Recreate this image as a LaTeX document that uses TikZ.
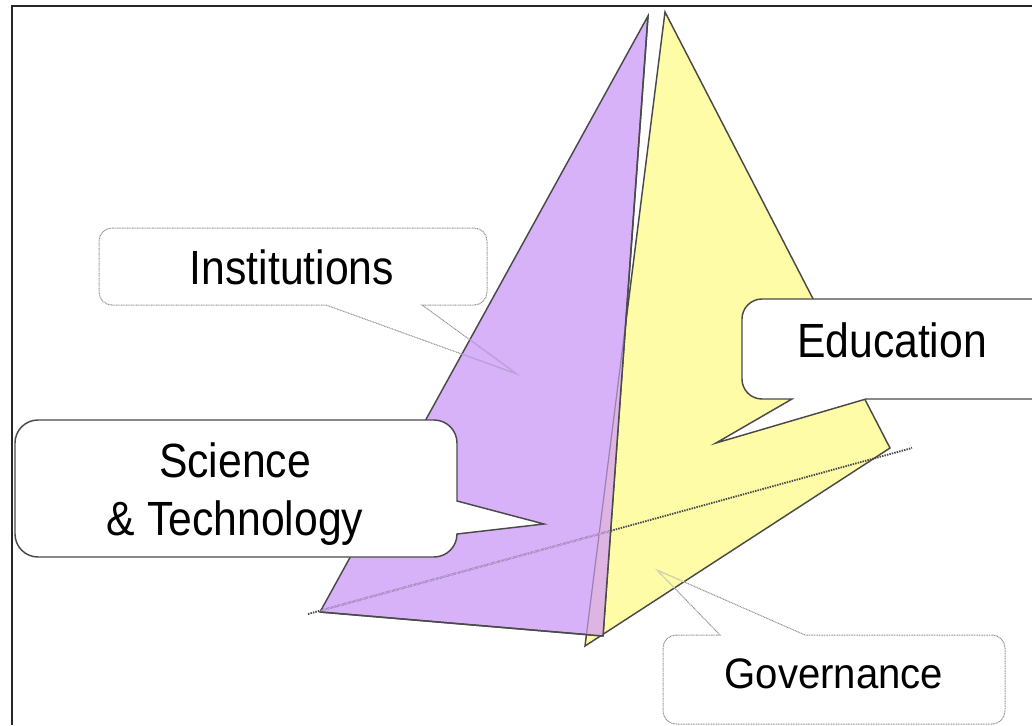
\documentclass[tikz,border=0pt]{standalone}
\usepackage{fontspec}
\setmainfont{Liberation Sans}
\newfontfamily\callfont[FakeStretch=0.89]{Liberation Sans}
\newfontfamily\govfont[FakeStretch=0.94]{Liberation Sans}
\definecolor{purp}{HTML}{D8B2F8}
\definecolor{yell}{HTML}{FFFCA8}
\definecolor{over}{HTML}{DDB4E2}
\definecolor{edgeg}{HTML}{4A4A4A}
\definecolor{fainty}{HTML}{D8D8B4}
\definecolor{faintp}{HTML}{C0A0E0}
\tikzset{
 planeedge/.style={draw=edgeg,line width=1.1pt,line join=miter},
 solidcall/.style={draw=edgeg,line width=1.1pt,fill=white,line join=miter},
 dotcall/.style={draw=gray!85,dash pattern=on 0.75pt off 0.5pt,line width=0.75pt},
 axisline/.style={dash pattern=on 1.1pt off 0.8pt,line width=1.4pt},
 calltext/.style={inner sep=0pt,font=\callfont\fontsize{36}{43.5}\selectfont,align=center,text=black},
}
\begin{document}
\begin{tikzpicture}[x=0.75pt,y=-0.75pt]
\useasboundingbox (0,0) rectangle (1032,725);
\fill[white] (0,0) rectangle (1032,725);
\coordinate (pa) at (648,16); \coordinate (pb) at (320,612); \coordinate (pc) at (603,636);
\coordinate (ya) at (665,12); \coordinate (yb) at (890,448); \coordinate (yc) at (585,646);
\coordinate (axa) at (308,614); \coordinate (axb) at (912,448);
\draw[planeedge,fill=yell] (ya)--(yb)--(yc)--cycle;
\draw[planeedge,fill=purp] (pa)--(pb)--(pc)--cycle;
\begin{scope}
\clip (ya)--(yb)--(yc)--cycle;
\fill[over] (pa)--(pb)--(pc)--cycle;
\end{scope}
\begin{scope}
\clip (pa)--(pb)--(pc)--cycle;
\draw[draw=faintp!80!black,line width=0.9pt] (ya)--(yc);
\end{scope}
\draw[planeedge] (pc)--(pa);
\draw[planeedge] (pb)--(pc);
\draw[draw=edgeg,axisline] (axa)--(axb);
\begin{scope}
\clip (pa)--(pb)--(pc)--cycle;
\draw[draw=faintp,axisline] (axa)--(axb);
\end{scope}
% Institutions
\draw[dotcall] (112,228) -- (474,228) arc (-90:0:13) -- (487,292) arc (0:90:13) -- (422,305) -- (517,374) -- (326,305) -- (112,305) arc (90:180:13) -- (99,241) arc (180:270:13) -- cycle;
\begin{scope}
\clip (pa)--(pb)--(pc)--cycle;
\draw[draw=faintp,line width=0.8pt] (422,305) -- (517,374) -- (326,305);
\end{scope}
\node[calltext] (inst) at (292,267) {Institutions};
% Science
\draw[solidcall] (38,420) -- (434,420) arc (-90:0:23) -- (457,501) -- (544,524) -- (457,534) arc (0:90:23) -- (38,557) arc (90:180:23) -- (15,443) arc (180:270:23) -- cycle;
\node[calltext] (sci) at (235,494) {Science\\\& Technology};
% Education
\draw[solidcall] (762,299) -- (1040,299) -- (1040,399) -- (866,399) -- (716,443) -- (792,399) -- (762,399) arc (90:180:20) -- (742,319) arc (180:270:20) -- cycle;
\node[calltext] (edu) at (892,340) {Education};
% Governance
\draw[dotcall] (676,635) -- (720,635) -- (657,570) -- (805,635) -- (992,635) arc (-90:0:13) -- (1005,711) arc (0:90:13) -- (676,724) arc (90:180:13) -- (663,648) arc (180:270:13) -- cycle;
\begin{scope}
\clip (ya)--(yb)--(yc)--cycle;
\draw[draw=fainty,line width=0.8pt] (720,635) -- (657,570) -- (805,635);
\end{scope}
\node[calltext,font=\govfont\fontsize{32}{38}\selectfont] (gov) at (834,674) {Governance};
% frame
\draw[draw=black!85,line width=1.5pt] (1032,5.5) -- (11.5,5.5) -- (11.5,725);
\end{tikzpicture}
\end{document}
